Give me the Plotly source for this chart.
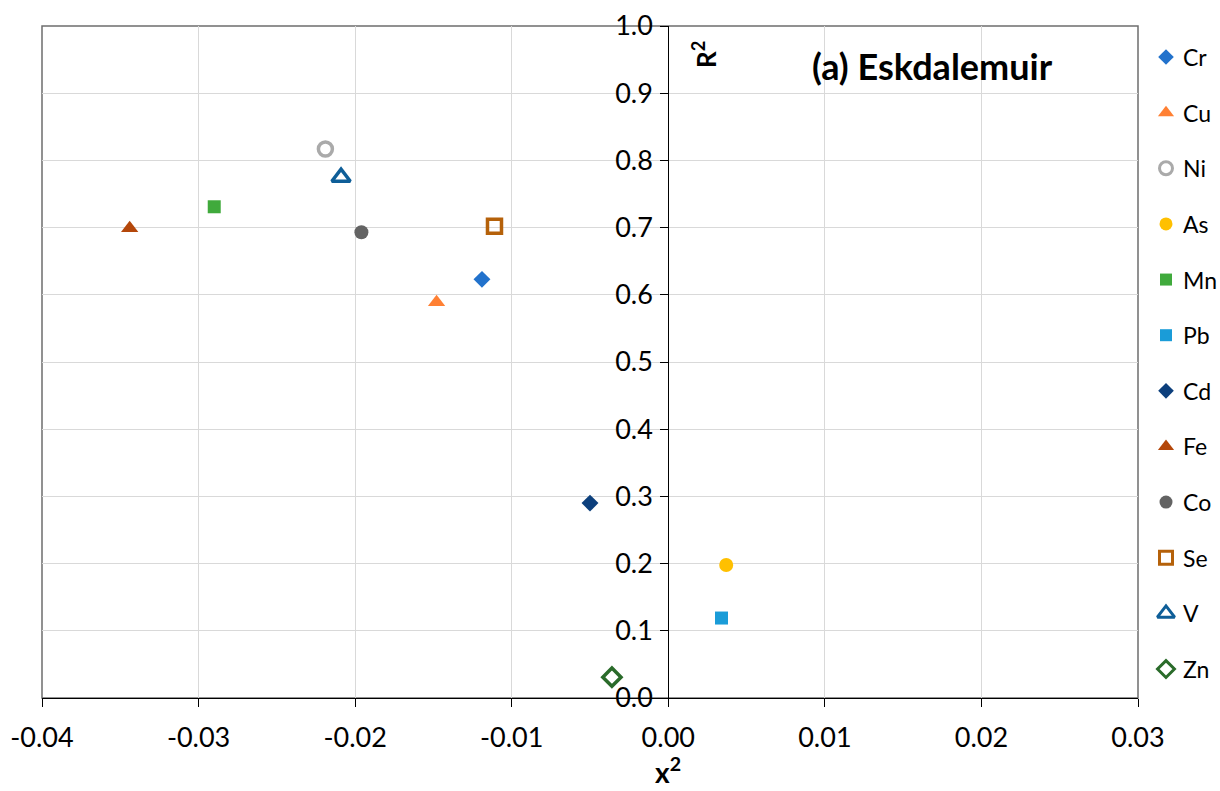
import plotly.graph_objects as go

elements = ["Cr", "Cu", "Ni", "As", "Mn", "Pb", "Cd", "Fe", "Co", "Se", "V", "Zn"]
x_vals = [-0.0119, -0.0148, -0.0219, 0.0037, -0.0290, 0.0034, -0.0050, -0.0344, -0.0196, -0.0111, -0.0209, -0.0036]
r2_vals = [0.623, 0.589, 0.817, 0.198, 0.731, 0.119, 0.290, 0.699, 0.693, 0.702, 0.775, 0.031]
symbols = ["diamond", "triangle-up", "circle-open", "circle", "square", "square", "diamond",
           "triangle-up", "circle", "square-open", "triangle-up-open", "diamond-open"]
colors = ["#2272CC", "#FF8033", "#AAAAAA", "#FFC000", "#40AA3C", "#1A9CD8", "#0C3F7C",
          "#B4470A", "#636363", "#B5610A", "#0E5E98", "#2A6B2A"]
sizes = [13, 15, 14, 14, 13, 13, 13, 15, 14, 14, 16, 14]

x_ticks = [-0.04, -0.03, -0.02, -0.01, 0.0, 0.01, 0.02, 0.03]
x_tick_text = ["-0.04", "-0.03", "-0.02", "-0.01", "0.00", "0.01", "0.02", "0.03"]
y_ticks = [0.0, 0.1, 0.2, 0.3, 0.4, 0.5, 0.6, 0.7, 0.8, 0.9, 1.0]
y_tick_text = ["0.0", "0.1", "0.2", "0.3", "0.4", "0.5", "0.6", "0.7", "0.8", "0.9", "1.0"]

FONT = "Lato"
W, H = 1220, 791
ML, MR, MT, MB = 42, 0, 26, 93
plot_right_px = 1138
paper_w = W - ML - MR
plot_h = H - MT - MB
dom_end = (plot_right_px - ML) / paper_w

def px_x(p):
    return (p - ML) / paper_w

def px_y(p):
    return (H - MB - p) / plot_h

fig = go.Figure()
for i, el in enumerate(elements):
    open_m = symbols[i].endswith("-open")
    fig.add_trace(go.Scatter(
        x=[x_vals[i]], y=[r2_vals[i]], mode="markers", name=el,
        showlegend=False,
        marker=dict(symbol=symbols[i], color=colors[i], size=sizes[i],
                    line=dict(width=3.5 if open_m else 0, color=colors[i])),
    ))

# manual legend on an axis pair covering only the legend strip (x2 units = paper fraction)
leg_first_px, leg_step_px = 57, 55.64
leg_marker_px, leg_text_px = 1166, 1181
for i, el in enumerate(elements):
    open_m = symbols[i].endswith("-open")
    ly = px_y(leg_first_px + leg_step_px * i)
    fig.add_trace(go.Scatter(
        x=[px_x(leg_marker_px)], y=[ly], mode="markers", showlegend=False,
        xaxis="x2", yaxis="y2", cliponaxis=False, hoverinfo="skip",
        marker=dict(symbol=symbols[i], color=colors[i], size=sizes[i] - 1,
                    line=dict(width=3 if open_m else 0, color=colors[i])),
    ))
    fig.add_annotation(text=el, xref="paper", yref="paper", x=px_x(leg_text_px), y=ly,
                       xanchor="left", yanchor="middle", showarrow=False,
                       font=dict(size=23, family=FONT, color="#000000"))

xmin, xmax = -0.04, 0.03
ypos = (0 - xmin) / (xmax - xmin) * dom_end

fig.update_layout(
    width=W, height=H,
    margin=dict(l=ML, r=MR, t=MT, b=MB, autoexpand=False),
    paper_bgcolor="white", plot_bgcolor="white",
    font=dict(family=FONT, color="#000000"),
    showlegend=False,
    xaxis=dict(range=[xmin, xmax], tickvals=x_ticks, ticktext=x_tick_text,
               showgrid=True, gridcolor="#D9D9D9", gridwidth=1,
               zeroline=False, showline=True, linecolor="#000000", linewidth=1,
               ticks="outside", ticklen=8, tickcolor="#000000",
               tickfont=dict(size=27, family=FONT), ticklabelstandoff=8,
               domain=[0, dom_end], automargin=False),
    yaxis=dict(range=[0, 1.0], tickvals=y_ticks, ticktext=y_tick_text,
               showgrid=True, gridcolor="#D9D9D9", gridwidth=1,
               zeroline=False, showline=True, linecolor="#000000", linewidth=1,
               ticks="outside", ticklen=8, tickcolor="#000000",
               tickfont=dict(size=27, family=FONT), ticklabelstandoff=2,
               anchor="free", position=ypos, side="left", automargin=False),
    xaxis2=dict(range=[dom_end + 0.001, 1], domain=[dom_end + 0.001, 1], anchor="y2",
                visible=False, showgrid=False, fixedrange=True, automargin=False),
    yaxis2=dict(range=[0, 1], domain=[0, 1], anchor="x2",
                visible=False, showgrid=False, fixedrange=True, automargin=False),
)

# plot-area border
fig.add_shape(type="rect", xref="paper", yref="paper", x0=0, y0=0, x1=dom_end, y1=1,
              line=dict(color="#6E6E6E", width=1.5), layer="below")

fig.add_annotation(text="<b>(a) Eskdalemuir</b>", xref="paper", yref="paper",
                   x=px_x(932), y=px_y(66), showarrow=False,
                   xanchor="center", yanchor="middle",
                   font=dict(size=36, family=FONT, color="#000000"))
fig.add_annotation(text="<b>R<sup>2</sup></b>", xref="paper", yref="paper",
                   x=px_x(705), y=px_y(55), showarrow=False, textangle=-90,
                   xanchor="center", yanchor="middle",
                   font=dict(size=26, family=FONT, color="#000000"))
fig.add_annotation(text="<b>x<sup>2</sup></b>", xref="paper", yref="paper",
                   x=px_x(668), y=px_y(770), showarrow=False,
                   xanchor="center", yanchor="middle",
                   font=dict(size=28, family=FONT, color="#000000"))

fig.write_html("out.html")
